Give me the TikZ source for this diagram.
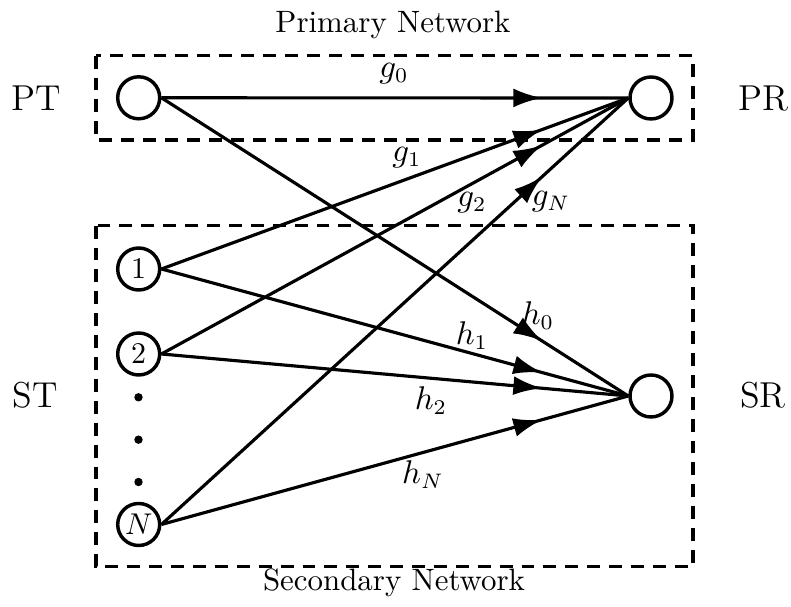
\documentclass[tikz,border=0pt]{standalone}
\usetikzlibrary{arrows.meta,decorations.markings}
\begin{document}
\begin{tikzpicture}[x=0.33333pt,y=-0.33333pt,
  nd/.style={circle,draw,line width=1.15pt,minimum size=14pt,inner sep=0pt,font=\normalsize},
  netbox/.style={draw,line width=1.1pt,dash pattern=on 4.3pt off 3pt},
  lnk/.style={line width=1.05pt,postaction={decorate},
    decoration={markings,mark=at position 0.815 with {\arrow{Latex[length=9.5pt,width=6.3pt]}}}},
  side/.style={font=\large,anchor=base,inner sep=0pt},
  lbl/.style={font=\fontsize{10.5}{12}\selectfont,inner sep=0pt},
  title/.style={font=\fontsize{10.3}{12}\selectfont,anchor=base,inner sep=0pt}]
\useasboundingbox (0,0) rectangle (791,607);
% boxes
\draw[netbox] (96,55.7) rectangle (693,140);
\draw[netbox] (96,225.7) rectangle (693,566.7);
\node[title] (pn) at (393,32.3) {Primary Network};
\node[title] (sn) at (394,590.7) {Secondary Network};
% side labels
\node[side] (ptl) at (36.7,110.7) {PT};
\node[side] (prl) at (763,110.7) {PR};
\node[side] (stl) at (35,408) {ST};
\node[side] (srl) at (763,408) {SR};
% nodes
\node[nd] (PT) at (138.7,97.8) {};
\node[nd] (PR) at (651,98) {};
\node[nd] (SR) at (651,396) {};
\node[nd] (S1) at (138.7,269) {1};
\node[nd] (S2) at (138.7,354) {2};
\node[nd] (SN) at (138.7,524.5) {$N$};
\fill (138.5,397.3) circle (1.4pt);
\fill (138.5,439.7) circle (1.4pt);
\fill (138.5,482.0) circle (1.4pt);
% links
\draw[lnk] (PT.east) -- (PR.west);
\draw[lnk] (S1.east) -- (PR.west);
\draw[lnk] (S2.east) -- (PR.west);
\draw[lnk] (SN.east) -- (PR.west);
\draw[lnk] (PT.east) -- (SR.west);
\draw[lnk] (S1.east) -- (SR.west);
\draw[lnk] (S2.east) -- (SR.west);
\draw[lnk] (SN.east) -- (SR.west);
% labels
\node[lbl] (lg0) at (394,73.5) {$g_0$};
\node[lbl] (lg1) at (407,158) {$g_1$};
\node[lbl] (lg2) at (472,203) {$g_2$};
\node[lbl] (lgN) at (551,202) {$g_N$};
\node[lbl] (lh0) at (538,316) {$h_0$};
\node[lbl] (lh1) at (472,336) {$h_1$};
\node[lbl] (lh2) at (431,401) {$h_2$};
\node[lbl] (lhN) at (423,475) {$h_N$};
\end{tikzpicture}
\end{document}
